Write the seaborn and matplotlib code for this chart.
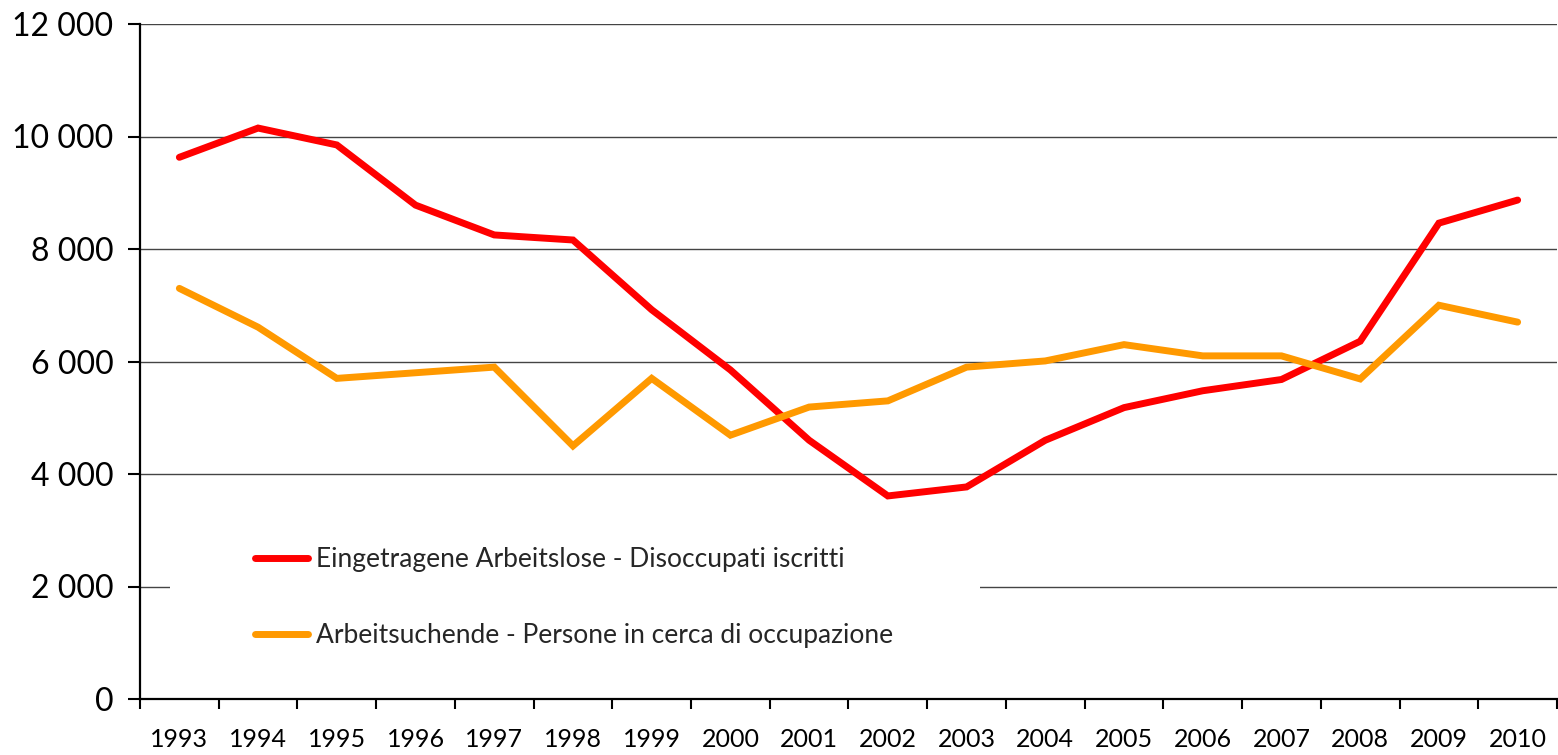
import matplotlib
matplotlib.use("Agg")
import matplotlib.pyplot as plt
import matplotlib.ticker as mticker
from matplotlib.patches import Rectangle
import seaborn as sns
import pandas as pd
import numpy as np

years = [str(y) for y in range(1993, 2011)]
registered = [9630, 10150, 9850, 8780, 8250, 8160, 6920, 5850, 4600, 3610,
              3770, 4600, 5180, 5480, 5680, 6360, 8460, 8870]
seekers = [7300, 6610, 5700, 5800, 5900, 4500, 5700, 4690, 5190, 5300,
           5900, 6010, 6300, 6100, 6100, 5690, 7000, 6700]
label_reg = "Eingetragene Arbeitslose - Disoccupati iscritti"
label_seek = "Arbeitsuchende - Persone in cerca di occupazione"

df = pd.DataFrame({
    "year": years * 2,
    "value": registered + seekers,
    "series": [label_reg] * len(years) + [label_seek] * len(years),
})

sns.set_theme(style="white")
plt.rcParams["font.family"] = ["Lato", "DejaVu Sans"]

fig = plt.figure(figsize=(15.58, 7.55), dpi=100)
ax = fig.add_axes([140 / 1558, 1 - 699 / 755, 1417 / 1558, 675 / 755])

sns.lineplot(data=df, x="year", y="value", hue="series",
             palette={label_reg: "#FF0000", label_seek: "#FF9900"},
             linewidth=5.0, ax=ax, sort=False, zorder=3,
             solid_capstyle="round", solid_joinstyle="miter")

ax.set_xlim(-0.5, len(years) - 0.5)
ax.set_ylim(0, 12000)
ax.set_yticks(np.arange(0, 12001, 2000))
ax.yaxis.set_major_formatter(mticker.FuncFormatter(lambda v, p: f"{v:,.0f}".replace(",", " ")))
ax.set_xticks(range(len(years)))
ax.set_xticklabels(years)
ax.set_xticks(np.arange(-0.5, len(years), 1.0), minor=True)
ax.tick_params(axis="x", which="major", length=0, pad=21, labelsize=18, colors="black")
ax.tick_params(axis="x", which="minor", length=7, width=1.5, direction="out", color="black", bottom=True)
ax.tick_params(axis="y", length=9, width=1.5, direction="out", pad=10, labelsize=23, colors="black", left=True)

ax.grid(axis="y", color="#444444", linewidth=1.0, zorder=0)
ax.set_axisbelow(True)
for s in ["top", "right"]:
    ax.spines[s].set_visible(False)
for s in ["left", "bottom"]:
    ax.spines[s].set_color("black")
    ax.spines[s].set_linewidth(1.6)
    ax.spines[s].set_zorder(4)
ax.set_xlabel("")
ax.set_ylabel("")

ax.add_patch(Rectangle((30 / 1417, 29 / 675), 810 / 1417, 170 / 675,
                       transform=ax.transAxes, facecolor="white", edgecolor="none", zorder=1))

handles, labels = ax.get_legend_handles_labels()
leg = ax.legend(handles, labels, loc="upper left",
                bbox_to_anchor=((255 - 140) / 1417, (699 - 547) / 675),
                frameon=False, fontsize=19, handlelength=2.0, handletextpad=0.3,
                labelspacing=1.95, borderpad=0, borderaxespad=0)
for h in leg.get_lines():
    h.set_linewidth(5.0)
    h.set_solid_capstyle("round")

fig.savefig("out.png", dpi=100)
